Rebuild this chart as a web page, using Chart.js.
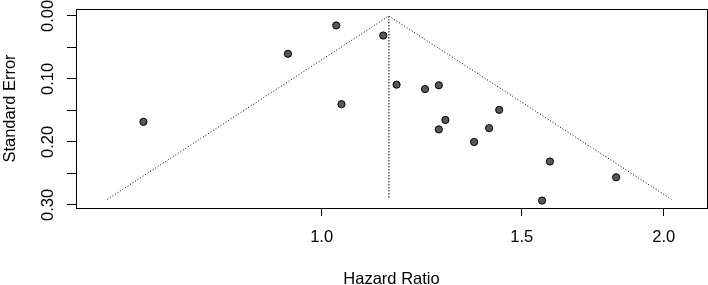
<!DOCTYPE html>
<html>
<head>
<meta charset="utf-8">
<script src="https://cdn.jsdelivr.net/npm/chart.js@4"></script>
<style>
  body { margin: 0; background: #fff; }
  #wrap { width: 708px; height: 285px; position: relative; }
</style>
</head>
<body>
<div id="wrap"><canvas id="chart"></canvas></div>
<script>
// study estimates
const hr = [0.697, 0.934, 1.030, 1.041, 1.133, 1.164, 1.233, 1.268, 1.285, 1.268, 1.433, 1.404, 1.362, 1.588, 1.816, 1.563]
const se = [0.168, 0.060, 0.015, 0.140, 0.031, 0.109, 0.116, 0.110, 0.165, 0.180, 0.149, 0.178, 0.200, 0.231, 0.256, 0.293]
// funnel and pooled estimate
const funnelHr = [0.648, 1.146, 2.031]
const funnelSe = [0.291, 0, 0.291]
const pooledHr = [1.146, 1.146]
const pooledSe = [0, 0.289]
// ticks
const xTicks = [1.0, 1.5, 2.0]
const yTicks = [0, 0.05, 0.10, 0.15, 0.20, 0.25, 0.30]
const yLabels = [0, 0.10, 0.20, 0.30]

const FONT = '"Liberation Sans", Arial, sans-serif'
const toXY = (xs, ys) => xs.map((x, i) => ({ x: x, y: ys[i] }))

// box + rotated y labels, like base R
const rStyle = {
  id: 'rStyle',
  afterDraw(chart) {
    const ctx = chart.ctx
    const a = chart.chartArea
    const y = chart.scales.y
    ctx.save()
    ctx.strokeStyle = '#000'
    ctx.lineWidth = 1
    ctx.strokeRect(Math.round(a.left) + 0.5, Math.round(a.top) + 0.5, Math.round(a.right - a.left), Math.round(a.bottom - a.top))
    ctx.fillStyle = '#000'
    ctx.font = '16.5px ' + FONT
    ctx.textAlign = 'center'
    ctx.textBaseline = 'middle'
    yLabels.forEach(v => {
      ctx.save()
      ctx.translate(48, y.getPixelForValue(v))
      ctx.rotate(-Math.PI / 2)
      ctx.fillText(v.toFixed(2), 0, 0)
      ctx.restore()
    })
    ctx.restore()
  }
}

const dotted = {
  showLine: true,
  pointRadius: 0,
  borderColor: '#000',
  borderWidth: 1,
  fill: false
}

new Chart(document.getElementById('chart'), {
  type: 'scatter',
  data: {
    datasets: [
      Object.assign({ data: toXY(funnelHr, funnelSe), borderDash: [1, 2] }, dotted),
      Object.assign({ data: toXY(pooledHr, pooledSe), borderDash: [1.5, 1.5] }, dotted),
      {
        data: toXY(hr, se),
        pointRadius: 3.6,
        pointBackgroundColor: '#585858',
        pointBorderColor: '#000',
        pointBorderWidth: 1
      }
    ]
  },
  options: {
    responsive: true,
    maintainAspectRatio: false,
    animation: false,
    layout: { autoPadding: false, padding: { left: 0, right: 1, top: 9, bottom: 0 } },
    plugins: { legend: { display: false }, tooltip: { enabled: false } },
    scales: {
      x: {
        type: 'logarithmic',
        bounds: 'data',
        min: 0.608,
        max: 2.183,
        afterBuildTicks: s => { s.ticks = xTicks.map(v => ({ value: v })) },
        afterFit: s => { s.height = 77; s.paddingLeft = 0; s.paddingRight = 0 },
        grid: { drawOnChartArea: false, drawTicks: true, tickLength: 8, color: '#000' },
        border: { display: false },
        ticks: {
          color: '#000',
          font: { family: FONT, size: 16.5 },
          padding: 12,
          maxRotation: 0,
          callback: v => Number(v).toFixed(1)
        },
        title: {
          display: true,
          text: 'Hazard Ratio',
          color: '#000',
          font: { family: FONT, size: 16.5 },
          padding: { top: 0, bottom: -4 }
        }
      },
      y: {
        reverse: true,
        min: -0.0111,
        max: 0.3048,
        afterBuildTicks: s => { s.ticks = yTicks.map(v => ({ value: v })) },
        afterFit: s => { s.width = 76; s.paddingTop = 0; s.paddingBottom = 0 },
        grid: { drawOnChartArea: false, drawTicks: true, tickLength: 9, color: '#000' },
        border: { display: false },
        ticks: { display: false },
        title: {
          display: true,
          text: 'Standard Error',
          color: '#000',
          font: { family: FONT, size: 16.5 },
          padding: { top: 1, bottom: 0 }
        }
      }
    }
  },
  plugins: [rStyle]
})
</script>
</body>
</html>
